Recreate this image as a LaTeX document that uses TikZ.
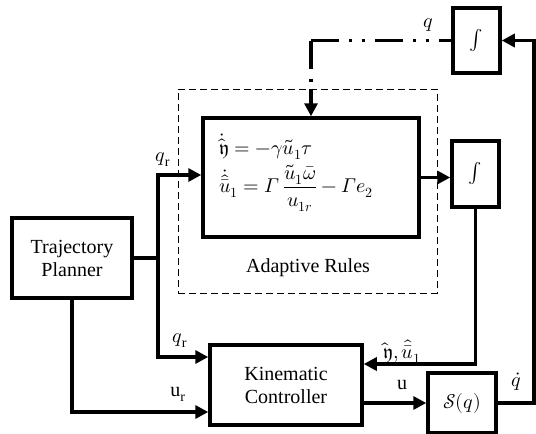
\documentclass[tikz,border=0pt]{standalone}
\usepackage{amsmath}
\usepackage{fontspec}
\usepackage{unicode-math}
\setmainfont{Liberation Serif}
\setmathfont{Latin Modern Math}
\usepackage{tikz}
\usetikzlibrary{arrows.meta}
\usetikzlibrary{positioning}

\tikzset{
  blk/.style={draw,line width=3.5pt,align=center,inner sep=0pt},
  lbl/.style={inner sep=1pt},
  sig/.style={line width=3.5pt,->},
  dashdotdot/.style={line width=3.5pt,dash pattern=on 28pt off 10pt on 3pt off 10pt on 3pt off 10pt}
}

\begin{document}
\begin{tikzpicture}[x=1pt,y=-1pt,>={Triangle[length=13pt,width=13pt]},font=\fontsize{20}{23}\selectfont]
				\useasboundingbox (0,0) rectangle (536,434);
				\node[draw,dash pattern=on 7pt off 4pt,line width=1pt,minimum width=259pt,minimum height=204pt] (dbox) at (307.5,191) {};
				\node[blk,minimum width=120pt,minimum height=80pt] (planner) at (72,258) {Trajectory\\Planner};
				\node[blk,minimum width=216pt,minimum height=119pt] (rules) at (311,177.5) {};
				\node[blk,minimum width=47pt,minimum height=66pt] (intmid) at (475.5,174) {$\int$};
				\node[blk,minimum width=47pt,minimum height=65pt] (inttop) at (476.5,40.5) {$\int$};
				\node[blk,minimum width=152pt,minimum height=80pt] (ctrl) at (286,385) {Kinematic\\Controller};
				\node[blk,minimum width=68pt,minimum height=60pt] (smat) at (462,403) {$\mathcal{S}(q)$};
				\node[lbl,anchor=west] (eqa) at (218,147) {$\dot{\hat{\mathfrak{y}}} = -\gamma\tilde{u}_1\tau$};
				\node[lbl,anchor=west] (eqb) at (218,188) {$\dot{\hat{\bar{u}}}_1 = \symit{\Gamma}\,\dfrac{\tilde{u}_1\bar{\omega}}{u_{1r}} - \symit{\Gamma} e_2$};
				\node[lbl] (rtitle) at (308,268) {Adaptive Rules};
				\coordinate (split) at (158,258);
				\coordinate (corner) at (534,403);
				\coordinate (qin) at (rules.north |- dbox.north);
				\coordinate (qbend) at (qin |- inttop.west);
				% reference to rules and controller
				\draw[line width=3.5pt] (planner.east) -- (split);
				\draw[sig] (split) |- ([yshift=2.5pt]rules.west);
				\draw[sig] (split) |- ([yshift=28pt]ctrl.west);
				\draw[sig] (planner.south) |- ([yshift=-27pt]ctrl.west);
				\draw[sig] ([yshift=-18pt]ctrl.east) -- (smat.west);
				% feedback
				\draw[sig] (smat.east) -- (corner) |- (inttop.east);
				\draw[dashdotdot] (qbend) -- (inttop.west);
				\draw[dashdotdot] (qbend) -- (qin);
				\draw[sig] (qin) -- (rules.north);
				\draw[sig] (rules.east) -- (rules.east -| intmid.west);
				\draw[sig] (intmid.south) |- ([yshift=21pt]ctrl.east);
				% labels
				\node[lbl] (lqtop) at (428,25) {$q$};
				\node[lbl] (lqr1) at (163,160) {$q_{\mathrm{r}}$};
				\node[lbl] (lqr2) at (180,341) {$q_{\mathrm{r}}$};
				\node[lbl] (lur) at (178,394) {u$_{\mathrm{r}}$};
				\node[lbl] (lu) at (402,385) {u};
				\node[lbl] (lest) at (402,352) {$\hat{\mathfrak{y}},\hat{\bar{u}}_1$};
				\node[lbl] (lqd) at (516,382) {$\dot{q}$};
			\end{tikzpicture}
\end{document}
